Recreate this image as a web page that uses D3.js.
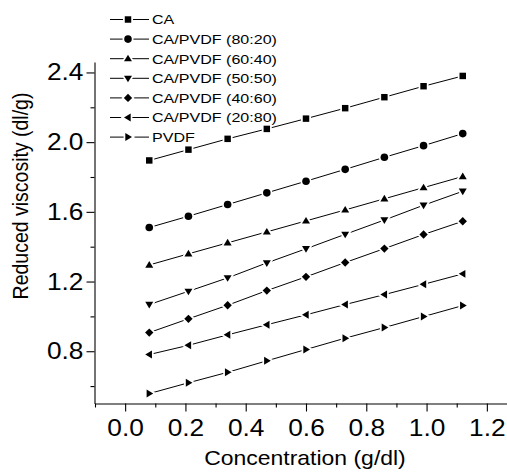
<!DOCTYPE html>
<html>
<head>
<meta charset="utf-8">
<title>Reduced viscosity vs concentration</title>
<style>
body { margin: 0; background: #fff; }
svg text { font-family: "Liberation Sans", Arial, sans-serif; fill: #000; }
</style>
</head>
<body>
<div id="container"></div>
<script src="https://d3js.org/d3.v7.min.js"></script>
<script>
// Data.
const concentration = [0.08, 0.21, 0.34, 0.47, 0.60, 0.73, 0.86, 0.99, 1.12];
const seriesNames = ["CA", "CA/PVDF (80:20)", "CA/PVDF (60:40)", "CA/PVDF (50:50)",
                     "CA/PVDF (40:60)", "CA/PVDF (20:80)", "PVDF"];
const CA       = [1.895, 1.957, 2.019, 2.076, 2.135, 2.195, 2.258, 2.321, 2.380];
const CA80PV20 = [1.510, 1.575, 1.642, 1.709, 1.776, 1.844, 1.913, 1.980, 2.049];
const CA60PV40 = [1.295, 1.359, 1.422, 1.485, 1.548, 1.611, 1.675, 1.739, 1.803];
const CA50PV50 = [1.068, 1.144, 1.221, 1.307, 1.388, 1.471, 1.553, 1.638, 1.718];
const CA40PV60 = [0.907, 0.986, 1.064, 1.148, 1.227, 1.309, 1.389, 1.470, 1.546];
const CA20PV80 = [0.781, 0.834, 0.894, 0.952, 1.009, 1.068, 1.125, 1.184, 1.244];
const PVDF     = [0.557, 0.619, 0.679, 0.745, 0.810, 0.875, 0.936, 0.999, 1.062];
const xMajor = [0.0, 0.2, 0.4, 0.6, 0.8, 1.0, 1.2];
const xMinor = [-0.1, 0.1, 0.3, 0.5, 0.7, 0.9, 1.1];
const yMajor = [0.8, 1.2, 1.6, 2.0, 2.4];
const yMinor = [0.6, 1.0, 1.4, 1.8, 2.2];

const allSeries = [CA, CA80PV20, CA60PV40, CA50PV50, CA40PV60, CA20PV80, PVDF];

// the source image is stretched a bit horizontally, so text is too
const sx = 1.12;

const width = 507, height = 472;
const x = d3.scaleLinear().domain([-0.1, 1.3]).range([95, 517]);
const y = d3.scaleLinear().domain([0.5, 2.46]).range([403.5, 62]);

// marker shapes as d3 symbol types, size = half width
const tri = (pts) => ({
  draw(ctx, r) {
    ctx.moveTo(pts[0][0] * r, pts[0][1] * r);
    for (let i = 1; i < pts.length; i++) ctx.lineTo(pts[i][0] * r, pts[i][1] * r);
    ctx.closePath();
  }
});
const shapes = [
  tri([[-0.85, -0.85], [0.85, -0.85], [0.85, 0.85], [-0.85, 0.85]]),   // square
  { draw(ctx, r) { ctx.moveTo(r, 0); ctx.arc(0, 0, r, 0, 2 * Math.PI); } }, // circle
  tri([[0, -1.05], [1.05, 0.7], [-1.05, 0.7]]),     // up
  tri([[0, 1.05], [1.05, -0.7], [-1.05, -0.7]]),    // down
  tri([[0, -1.1], [1.1, 0], [0, 1.1], [-1.1, 0]]),  // diamond
  tri([[-1.05, 0], [0.7, -1.05], [0.7, 1.05]]),     // left
  tri([[1.05, 0], [-0.7, -1.05], [-0.7, 1.05]])     // right
];
const sym = i => d3.symbol().type(shapes[i]).size(3.8)();

const svg = d3.create("svg")
    .attr("width", width)
    .attr("height", height);

// lines
const line = d3.line()
    .x((d, i) => x(concentration[i]))
    .y(d => y(d));

allSeries.forEach((vals, k) => {
  svg.append("path")
      .attr("fill", "none")
      .attr("stroke", "#000")
      .attr("stroke-width", 1)
      .attr("d", line(vals));
  svg.append("g").selectAll("path")
    .data(vals)
    .join("path")
      .attr("transform", (d, i) => `translate(${x(concentration[i])},${y(d)})`)
      .attr("d", sym(k))
      .attr("fill", "#000")
      .attr("stroke", "#fff")
      .attr("stroke-width", 3.5)
      .style("paint-order", "stroke");
});

// axes
const fmt = d3.format(".1f");
const yAxis = svg.append("g")
    .attr("transform", "translate(94.5,0)")
    .call(d3.axisLeft(y).tickValues(yMajor).tickSize(8).tickSizeOuter(0)
      .tickPadding(3).tickFormat(fmt));
yAxis.selectAll("text")
    .attr("x", -11 / sx)
    .attr("transform", `scale(${sx},1)`)
    .style("font-size", "23.5px");
svg.append("g")
    .attr("transform", "translate(94.5,0)")
    .call(d3.axisLeft(y).tickValues(yMinor).tickSize(4).tickFormat(""))
    .select(".domain").remove();

const xAxis = svg.append("g")
    .attr("transform", "translate(0,403.5)")
    .call(d3.axisBottom(x).tickValues(xMajor).tickSize(8).tickSizeOuter(0)
      .tickPadding(7.5).tickFormat(fmt));
xAxis.selectAll("text")
    .attr("transform", `scale(${sx},1)`)
    .style("font-size", "23.5px");
svg.append("g")
    .attr("transform", "translate(0,403.5)")
    .call(d3.axisBottom(x).tickValues(xMinor).tickSize(4).tickFormat(""))
    .select(".domain").remove();

svg.selectAll(".domain, .tick line").attr("stroke-width", 1.1);

// axis titles
svg.append("text")
    .attr("transform", `translate(305,465) scale(${sx},1)`)
    .attr("text-anchor", "middle")
    .style("font-size", "20.5px")
    .text("Concentration (g/dl)");

svg.append("text")
    .attr("transform", `translate(28.3,196) scale(${sx},1) rotate(-90)`)
    .attr("text-anchor", "middle")
    .style("font-size", "19.5px")
    .text("Reduced viscosity (dl/g)");

// legend
const legend = svg.append("g").selectAll("g")
  .data(seriesNames)
  .join("g")
    .attr("transform", (d, i) => `translate(0,${19.5 + i * 19.6})`);
legend.append("line")
    .attr("x1", 110).attr("x2", 149)
    .attr("stroke", "#000").attr("stroke-width", 1);
legend.append("path")
    .attr("transform", "translate(128,0)")
    .attr("d", (d, i) => sym(i))
    .attr("fill", "#000")
    .attr("stroke", "#fff")
    .attr("stroke-width", 3.5)
    .style("paint-order", "stroke");
legend.append("text")
    .attr("transform", "translate(152,0) scale(1.19,1)")
    .attr("dy", "0.36em")
    .style("font-size", "13.5px")
    .text(d => d);

container.append(svg.node());
</script>
</body>
</html>
